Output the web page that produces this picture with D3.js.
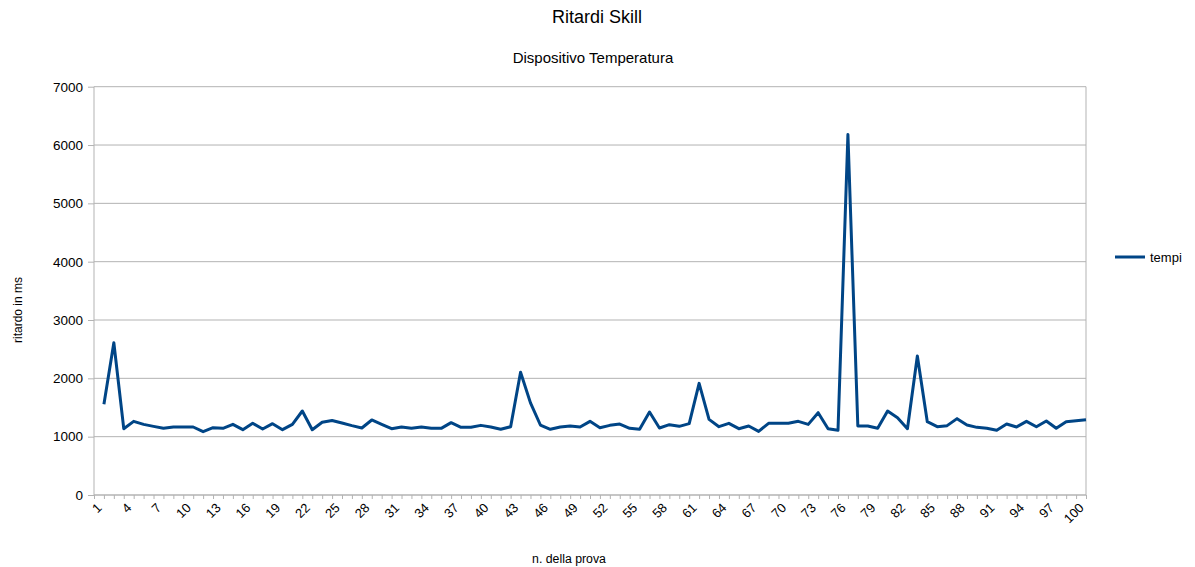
<!DOCTYPE html>
<html>
<head>
<meta charset="utf-8">
<script src="https://cdn.jsdelivr.net/npm/d3@7"></script>
<style>
  html, body { margin: 0; padding: 0; background: #fff; }
  svg { display: block; font-family: "Liberation Sans", Arial, sans-serif; }
</style>
</head>
<body>
<svg id="chart" width="1195" height="567"></svg>
<script>
// Categories 1..101 (first category has no value)
const categories = d3.range(1, 102);
// tick labels shown every 3rd category
const tickLabels = categories.filter(c => (c - 1) % 3 === 0);
// values for categories 2..101
const tempi = [
  1554, 2611, 1137, 1263, 1211, 1177, 1143, 1166, 1166, 1166,
  1086, 1154, 1143, 1211, 1120, 1229, 1131, 1223, 1120, 1211,
  1440, 1120, 1246, 1277, 1234, 1189, 1149, 1286, 1211, 1137,
  1166, 1143, 1166, 1143, 1143, 1240, 1160, 1160, 1194, 1166,
  1126, 1171, 2105, 1580, 1200, 1126, 1166, 1183, 1166, 1263,
  1154, 1194, 1217, 1143, 1126, 1423, 1149, 1206, 1177, 1223,
  1914, 1297, 1171, 1229, 1137, 1183, 1091, 1229, 1229, 1229,
  1263, 1211, 1411, 1137, 1109, 6180, 1183, 1183, 1143, 1440,
  1326, 1137, 2383, 1257, 1171, 1189, 1309, 1200, 1160, 1143,
  1109, 1217, 1166, 1263, 1171, 1269, 1143, 1257, 1274, 1291
];
const yTicks = [0, 1000, 2000, 3000, 4000, 5000, 6000, 7000];
const seriesName = "tempi";

const data = tempi.map((v, i) => ({ cat: categories[i + 1], v }));

const svg = d3.select("#chart");
const pLeft = 94, pRight = 1086, pTop = 86.7, pBottom = 495;

const x = d3.scalePoint().domain(categories).range([pLeft, pRight]);
const y = d3.scaleLinear().domain([0, 7000]).range([pBottom, pTop]);

const gridColor = "#b3b3b3";

// gridlines
svg.append("g").selectAll("line").data(yTicks).join("line")
  .attr("x1", pLeft).attr("x2", pRight)
  .attr("y1", d => y(d)).attr("y2", d => y(d))
  .attr("stroke", gridColor).attr("stroke-width", 1);

// right border
svg.append("line").attr("x1", pRight).attr("x2", pRight)
  .attr("y1", pTop).attr("y2", pBottom).attr("stroke", gridColor);

// Y axis
const yAxis = svg.append("g").attr("transform", `translate(${pLeft},0)`)
  .call(d3.axisLeft(y).tickValues(yTicks).tickSize(6).tickPadding(5).tickFormat(d3.format("d")));
yAxis.selectAll("path, line").attr("stroke", gridColor);
yAxis.select(".domain").attr("d", `M0,${pTop}V${pBottom}`);
yAxis.selectAll("text").attr("font-size", "13.5px").attr("fill", "#000")
  .attr("font-family", "Liberation Sans, Arial, sans-serif");

// X axis
const xAxis = svg.append("g").attr("transform", `translate(0,${pBottom})`)
  .call(d3.axisBottom(x).tickValues(categories).tickSize(4).tickFormat(""));
xAxis.selectAll("path, line").attr("stroke", gridColor);
xAxis.select(".domain").attr("d", `M${pLeft},0H${pRight}`);

// X tick labels (rotated)
svg.append("g").selectAll("text").data(tickLabels).join("text")
  .attr("transform", d => `translate(${x(d) + 2},${pBottom + 7}) rotate(-45)`)
  .attr("text-anchor", "end")
  .attr("dy", "0.71em")
  .attr("font-size", "13px")
  .attr("fill", "#000")
  .text(d => d);

// line
const line = d3.line().x(d => x(d.cat)).y(d => y(d.v));
svg.append("path").datum(data)
  .attr("d", line)
  .attr("fill", "none")
  .attr("stroke", "#004586")
  .attr("stroke-width", 3)
  .attr("stroke-linejoin", "round");

// titles
svg.append("text").attr("x", 597).attr("y", 23).attr("text-anchor", "middle")
  .attr("font-size", "18px").attr("fill", "#000").text("Ritardi Skill");
svg.append("text").attr("x", 593).attr("y", 63).attr("text-anchor", "middle")
  .attr("font-size", "15px").attr("fill", "#000").text("Dispositivo Temperatura");

// axis titles
svg.append("text").attr("x", 569).attr("y", 563).attr("text-anchor", "middle")
  .attr("font-size", "12.3px").attr("fill", "#000").text("n. della prova");
svg.append("text").attr("transform", "translate(22,310) rotate(-90)")
  .attr("text-anchor", "middle")
  .attr("font-size", "12px").attr("fill", "#000").text("ritardo in ms");

// legend
const lg = svg.append("g").attr("transform", "translate(1115,257)");
lg.append("line").attr("x1", 0).attr("x2", 30).attr("y1", 0).attr("y2", 0)
  .attr("stroke", "#004586").attr("stroke-width", 3);
lg.append("text").attr("x", 35).attr("y", 0).attr("dy", "0.35em")
  .attr("font-size", "13px").attr("fill", "#000").text(seriesName);
</script>
</body>
</html>
